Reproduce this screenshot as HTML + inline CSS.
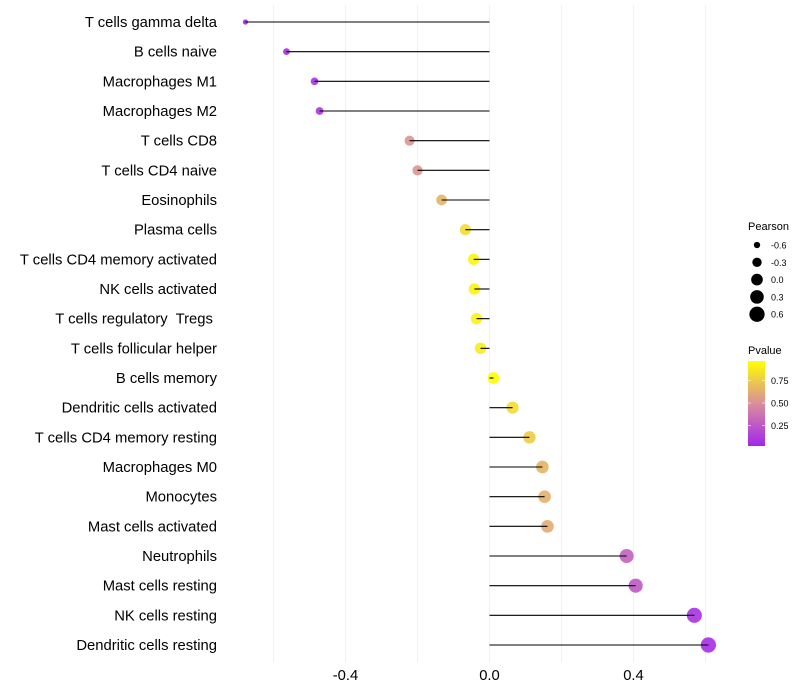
<!DOCTYPE html>
<html><head><meta charset="utf-8"><style>
html,body{margin:0;padding:0;background:#fff;}
svg{display:block;font-family:"Liberation Sans",sans-serif;}
text{white-space:pre;}
</style></head><body>
<svg id="chart" width="800" height="700"></svg>
<script>
const categories=["T cells gamma delta","B cells naive","Macrophages M1","Macrophages M2","T cells CD8","T cells CD4 naive","Eosinophils","Plasma cells","T cells CD4 memory activated","NK cells activated","T cells regulatory  Tregs ","T cells follicular helper","B cells memory","Dendritic cells activated","T cells CD4 memory resting","Macrophages M0","Monocytes","Mast cells activated","Neutrophils","Mast cells resting","NK cells resting","Dendritic cells resting"];
const pearson=[-0.678,-0.564,-0.486,-0.472,-0.222,-0.2,-0.133,-0.067,-0.044,-0.042,-0.036,-0.025,0.011,0.064,0.111,0.147,0.153,0.161,0.381,0.406,0.569,0.608];
const pvalue=[0.03,0.05,0.08,0.1,0.55,0.55,0.68,0.85,0.95,0.95,0.95,0.92,0.99,0.85,0.78,0.68,0.66,0.64,0.3,0.27,0.08,0.05];
const xTicks=[-0.4,0.0,0.4];
const xGrid=[-0.6,-0.4,-0.2,0,0.2,0.4,0.6];
const sizeLegend=[-0.6,-0.3,0.0,0.3,0.6];
const colorLegend=[0.75,0.50,0.25];

const NS="http://www.w3.org/2000/svg";
const svg=document.getElementById('chart');
function mk(t,a,p){const e=document.createElementNS(NS,t);for(const k in a)e.setAttribute(k,a[k]);(p||svg).appendChild(e);return e;}
const xS=v=>489.5+v*360;
const yS=i=>22+i*(645-22)/(categories.length-1);
const rS=v=>Math.sqrt(6+40*(v+0.7));
function lerp(a,b,t){return a.map((x,i)=>Math.round(x+(b[i]-x)*t));}
function col(p){const c0=[160,32,240],c1=[216,138,160],c2=[255,255,0];
 const c=p<0.5?lerp(c0,c1,p/0.5):lerp(c1,c2,(p-0.5)/0.5);return `rgb(${c})`;}

const grid=mk('g',{});
xGrid.forEach(v=>{const l=mk('line',{x1:xS(v),x2:xS(v),y1:5,y2:662,stroke:'#f0f0f0','stroke-width':1},grid);
});

categories.forEach((c,i)=>{
 const y=yS(i);
 const t=mk('text',{x:217,y:y+5,'text-anchor':'end','font-size':14.8,fill:'#000'});t.textContent=c;
 
 const p=mk('circle',{cx:xS(pearson[i]),cy:y,r:rS(pearson[i]),fill:col(pvalue[i]),'fill-opacity':0.9});
 
 const l=mk('line',{x1:xS(0),x2:xS(pearson[i]),y1:y,y2:y,stroke:'#000','stroke-width':1.1});
 
});
xTicks.forEach(v=>{const t=mk('text',{x:xS(v),y:680,'text-anchor':'middle','font-size':14.8,fill:'#000'});t.textContent=v.toFixed(1);
});

const lg=mk('g',{});
const lt=mk('text',{x:748,y:230,'font-size':11,fill:'#000'},lg);lt.textContent='Pearson';

sizeLegend.forEach((v,i)=>{const y=245+i*17.3;
 const c=mk('circle',{cx:757,cy:y,r:rS(v),fill:'#000'},lg);
 const t=mk('text',{x:771,y:y+3.5,'font-size':9,fill:'#000'},lg);t.textContent=v.toFixed(1);
 });

const cg=mk('g',{});
const ct=mk('text',{x:748,y:354,'font-size':11,fill:'#000'},cg);ct.textContent='Pvalue';

const defs=mk('defs',{});const gr=mk('linearGradient',{id:'pg',x1:0,y1:1,x2:0,y2:0},defs);
for(let k=0;k<=10;k++){mk('stop',{offset:k/10,'stop-color':col(0.03+0.97*k/10)},gr);}
const bar=mk('rect',{x:748,y:361,width:17,height:85,fill:'url(#pg)'},cg);

colorLegend.forEach(v=>{const y=448-v*90;
 mk('line',{x1:748,x2:751,y1:y,y2:y,stroke:'#fff','stroke-width':0.6},cg);
 mk('line',{x1:762,x2:765,y1:y,y2:y,stroke:'#fff','stroke-width':0.6},cg);
 const t=mk('text',{x:771,y:y+3.5,'font-size':9,fill:'#000'},cg);t.textContent=v.toFixed(2);
 });
</script>
</body></html>
